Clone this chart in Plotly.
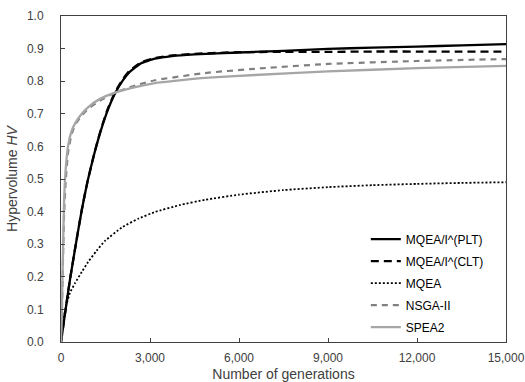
import plotly.graph_objects as go

# Data
gen_plt = [0, 100, 300, 500, 700, 900, 1100, 1250, 1400, 1580, 1820, 2090, 2300, 2700, 3170, 3740, 4500, 6000, 7500, 9000, 10500, 12000, 13500, 15000]
hv_plt = [0, 0.065, 0.19, 0.30, 0.405, 0.495, 0.57, 0.62, 0.665, 0.712, 0.762, 0.803, 0.827, 0.855, 0.869, 0.877, 0.882, 0.888, 0.893, 0.899, 0.903, 0.906, 0.910, 0.914]

gen_clt = [0, 100, 300, 500, 700, 900, 1100, 1250, 1400, 1580, 1820, 2090, 2300, 2700, 3170, 3740, 4500, 6000, 7500, 9000, 10500, 12000, 13500, 15000]
hv_clt = [0, 0.065, 0.19, 0.30, 0.405, 0.495, 0.57, 0.622, 0.668, 0.716, 0.766, 0.807, 0.831, 0.858, 0.871, 0.879, 0.884, 0.889, 0.890, 0.890, 0.891, 0.891, 0.891, 0.891]

gen_mqea = [0, 135, 300, 470, 700, 910, 1200, 1480, 2060, 2600, 3170, 4000, 4850, 6000, 7500, 9000, 10500, 12000, 13500, 15000]
hv_mqea = [0, 0.098, 0.15, 0.18, 0.215, 0.245, 0.28, 0.31, 0.352, 0.378, 0.399, 0.42, 0.436, 0.452, 0.466, 0.475, 0.481, 0.485, 0.488, 0.490]

gen_nsga = [0, 30, 60, 100, 150, 236, 350, 470, 700, 910, 1300, 1820, 2500, 3170, 4850, 6370, 9000, 12000, 15000]
hv_nsga = [0, 0.09, 0.22, 0.38, 0.48, 0.58, 0.635, 0.665, 0.695, 0.715, 0.74, 0.765, 0.787, 0.803, 0.825, 0.837, 0.853, 0.862, 0.868]

gen_spea = [0, 30, 60, 100, 150, 236, 350, 470, 700, 910, 1300, 1820, 2500, 3170, 4850, 6540, 9000, 12000, 15000]
hv_spea = [0, 0.1, 0.25, 0.42, 0.52, 0.6, 0.645, 0.67, 0.70, 0.72, 0.745, 0.765, 0.782, 0.794, 0.81, 0.819, 0.83, 0.84, 0.847]

names = ["MQEA/I^(PLT)", "MQEA/I^(CLT)", "MQEA", "NSGA-II", "SPEA2"]

fig = go.Figure()
fig.add_trace(go.Scatter(x=gen_plt, y=hv_plt, mode="lines", name=names[0], legendgroup="a",
                         line=dict(color="#000000", width=2.3, shape="spline", smoothing=0.4)))
fig.add_trace(go.Scatter(x=gen_clt, y=hv_clt, mode="lines", name=names[1], legendgroup="b",
                         line=dict(color="#000000", width=2.3, dash="8px,5px", shape="spline", smoothing=0.4)))
fig.add_trace(go.Scatter(x=gen_mqea, y=hv_mqea, mode="lines", name=names[2], legendgroup="c",
                         line=dict(color="#000000", width=1.8, dash="2px,2px", shape="spline", smoothing=0.4)))
fig.add_trace(go.Scatter(x=gen_nsga, y=hv_nsga, mode="lines", name=names[3], legendgroup="d",
                         line=dict(color="#808080", width=2.2, dash="6px,5px", shape="spline", smoothing=0.4)))
fig.add_trace(go.Scatter(x=gen_spea, y=hv_spea, mode="lines", name=names[4], legendgroup="e",
                         line=dict(color="#a6a6a6", width=2.3, shape="spline", smoothing=0.4)))

axis_common = dict(showgrid=False, zeroline=False, showline=True, linecolor="#404040", linewidth=1,
                   mirror=True, ticks="inside", ticklen=4, tickcolor="#404040", automargin=False,
                   ticklabeloverflow="allow",
                   tickfont=dict(family="Liberation Sans, Arial", size=12, color="#404040"))

fig.update_layout(
    width=525, height=382,
    margin=dict(l=61, r=19, t=16, b=40),
    paper_bgcolor="white", plot_bgcolor="white",
    font=dict(family="Liberation Sans, Arial", size=12, color="#404040"),
    xaxis=dict(range=[0, 15000], tickvals=[0, 3000, 6000, 9000, 12000, 15000],
               tickformat=",", ticklabelstandoff=5, title=dict(text="Number of generations", standoff=9), **axis_common),
    yaxis=dict(range=[0, 1.0], dtick=0.1, tickformat=".1f", ticklabelstandoff=14,
               title=dict(text="Hypervolume <i>HV</i>", standoff=6), **axis_common),
    legend=dict(x=0.685, y=0.36, xanchor="left", yanchor="top", bgcolor="rgba(0,0,0,0)",
                font=dict(size=12, color="#000000"), tracegroupgap=3, traceorder="grouped"),
    showlegend=True,
)

fig.write_html("out.html", config={"displayModeBar": False},
               post_script="document.body.style.margin='0px'; document.body.style.overflow='hidden';")
